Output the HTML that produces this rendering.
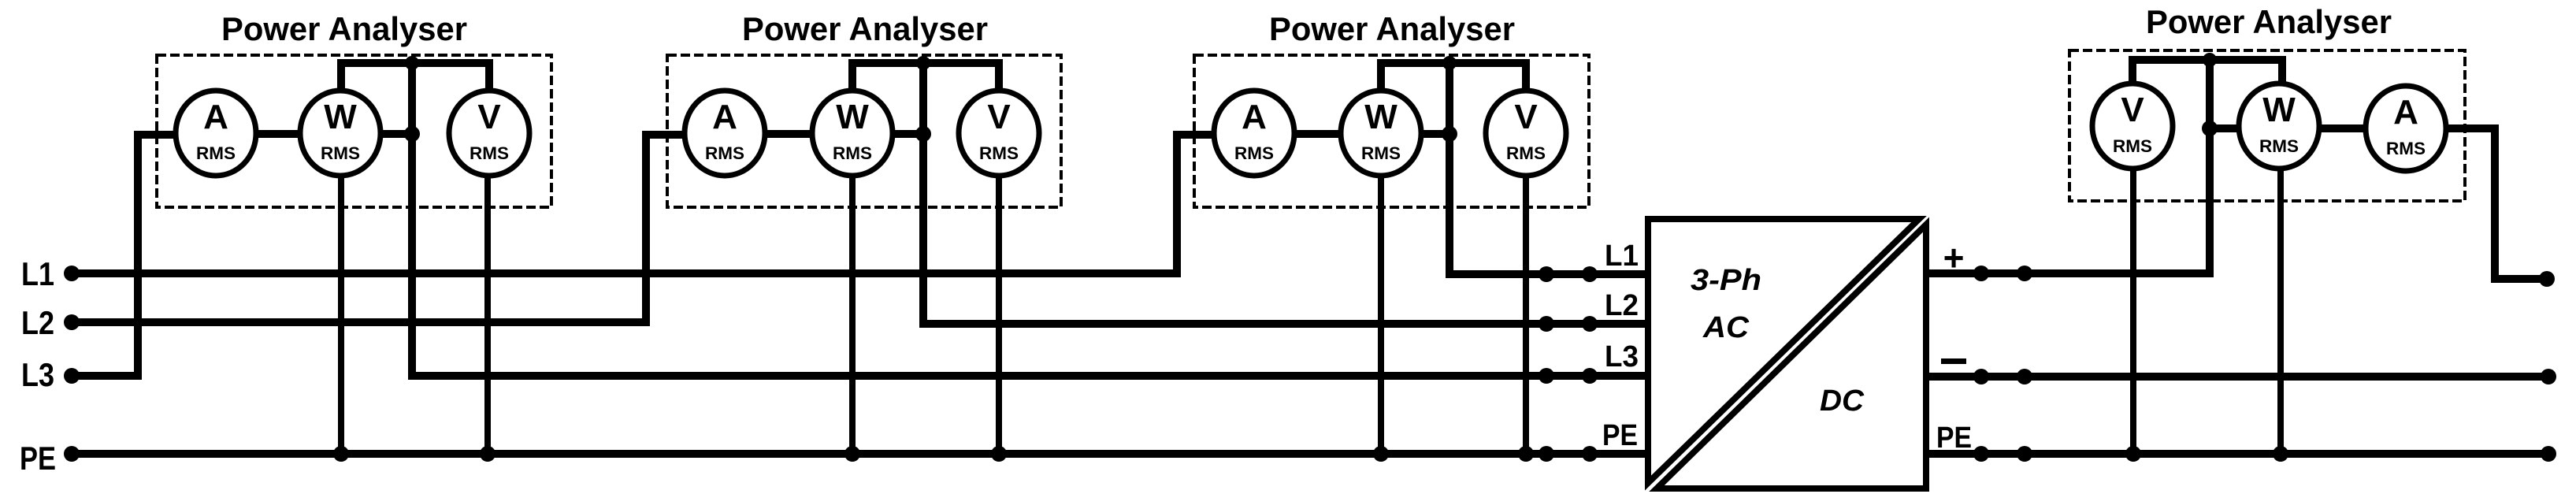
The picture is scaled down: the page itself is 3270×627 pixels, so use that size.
<!DOCTYPE html>
<html><head><meta charset="utf-8"><style>
html,body{margin:0;padding:0;background:#fff;}
svg{display:block;}
text{font-family:"Liberation Sans",sans-serif;font-weight:bold;fill:#000;}
</style></head><body>
<svg width="3270" height="627" viewBox="0 0 3270 627" xmlns="http://www.w3.org/2000/svg">
<defs>
<g id="mA"><ellipse cx="0" cy="0" rx="51" ry="54" fill="#fff" stroke="#000" stroke-width="7"/><text x="0" y="-6" font-size="44" text-anchor="middle">A</text><text x="0" y="33" font-size="22" font-weight="normal" text-anchor="middle" textLength="50" lengthAdjust="spacingAndGlyphs">RMS</text></g>
<g id="mW"><ellipse cx="0" cy="0" rx="51" ry="54" fill="#fff" stroke="#000" stroke-width="7"/><text x="0" y="-6" font-size="44" text-anchor="middle">W</text><text x="0" y="33" font-size="22" font-weight="normal" text-anchor="middle" textLength="50" lengthAdjust="spacingAndGlyphs">RMS</text></g>
<g id="mV"><ellipse cx="0" cy="0" rx="51" ry="54" fill="#fff" stroke="#000" stroke-width="7"/><text x="0" y="-6" font-size="44" text-anchor="middle">V</text><text x="0" y="33" font-size="22" font-weight="normal" text-anchor="middle" textLength="50" lengthAdjust="spacingAndGlyphs">RMS</text></g>
</defs>

<!-- dashed boxes -->
<g fill="none" stroke="#000" stroke-width="4" stroke-dasharray="12,5">
<rect x="199" y="70" width="501" height="193"/>
<rect x="847" y="70" width="500" height="193"/>
<rect x="1516" y="70" width="501" height="193"/>
<rect x="2627" y="64" width="502" height="191"/>
</g>

<!-- titles -->
<g font-size="42" text-anchor="middle">
<text x="437" y="51" textLength="312" lengthAdjust="spacingAndGlyphs">Power Analyser</text>
<text x="1098" y="51" textLength="312" lengthAdjust="spacingAndGlyphs">Power Analyser</text>
<text x="1767" y="51" textLength="312" lengthAdjust="spacingAndGlyphs">Power Analyser</text>
<text x="2880" y="42" textLength="312" lengthAdjust="spacingAndGlyphs">Power Analyser</text>
</g>

<!-- wires -->
<g fill="none" stroke="#000" stroke-width="10" stroke-linejoin="miter" stroke-linecap="square">
<!-- buses left -->
<polyline points="91,347 1494,347 1494,171 1541,171"/>
<polyline points="91,409 820,409 820,171 869,171"/>
<polyline points="91,477 175,477 175,171 223,171"/>
<line x1="91" y1="576" x2="2092" y2="576"/>
<!-- analyser 1 -->
<polyline points="433,114 433,80 621,80 621,114"/>
<polyline points="523,80 523,477 2092,477"/>
<line x1="274" y1="170" x2="432" y2="170"/>
<line x1="432" y1="170" x2="523" y2="170"/>
<!-- analyser 2 -->
<polyline points="1082,114 1082,80 1268,80 1268,114"/>
<polyline points="1172,80 1172,411 2092,411"/>
<line x1="920" y1="170" x2="1172" y2="170"/>
<!-- analyser 3 -->
<polyline points="1753,114 1753,80 1937,80 1937,114"/>
<polyline points="1840,80 1840,348 2092,348"/>
<line x1="1592" y1="170" x2="1840" y2="170"/>
<!-- analyser 4 -->
<polyline points="2707,110 2707,76 2897,76 2897,110"/>
<polyline points="2805,76 2805,347 2445,347"/>
<line x1="2805" y1="163" x2="3054" y2="163"/>
<polyline points="3054,163 3167,163 3167,354 3233,354"/>
<line x1="2445" y1="478" x2="3235" y2="478"/>
<line x1="2445" y1="576" x2="3235" y2="576"/>
</g>
<g stroke="#000" stroke-width="8">
<line x1="433" y1="200" x2="433" y2="576"/>
<line x1="619" y1="200" x2="619" y2="576"/>
<line x1="1082" y1="200" x2="1082" y2="576"/>
<line x1="1268" y1="200" x2="1268" y2="576"/>
<line x1="1753" y1="200" x2="1753" y2="576"/>
<line x1="1937" y1="200" x2="1937" y2="576"/>
<line x1="2708" y1="200" x2="2708" y2="576"/>
<line x1="2895" y1="200" x2="2895" y2="576"/>
</g>

<!-- meters -->
<use href="#mA" x="274" y="169"/><use href="#mW" x="432" y="169"/><use href="#mV" x="621" y="169"/>
<use href="#mA" x="920" y="169"/><use href="#mW" x="1082" y="169"/><use href="#mV" x="1268" y="169"/>
<use href="#mA" x="1592" y="169"/><use href="#mW" x="1753" y="169"/><use href="#mV" x="1937" y="169"/>
<use href="#mV" x="2707" y="160"/><use href="#mW" x="2893" y="160"/><use href="#mA" x="3054" y="163"/>

<!-- dots -->
<g fill="#000">
<circle cx="91" cy="347" r="10"/><circle cx="91" cy="409" r="10"/><circle cx="91" cy="477" r="10"/><circle cx="91" cy="576" r="10"/>
<circle cx="523" cy="80" r="9"/><circle cx="523" cy="170" r="10"/>
<circle cx="1172" cy="80" r="9"/><circle cx="1172" cy="170" r="10"/>
<circle cx="1840" cy="80" r="9"/><circle cx="1840" cy="170" r="10"/>
<circle cx="2805" cy="76" r="9"/><circle cx="2805" cy="163" r="10"/>
<circle cx="433" cy="576" r="10"/><circle cx="619" cy="576" r="10"/>
<circle cx="1082" cy="576" r="10"/><circle cx="1268" cy="576" r="10"/>
<circle cx="1753" cy="576" r="10"/><circle cx="1937" cy="576" r="10"/>
<circle cx="2708" cy="576" r="10"/><circle cx="2895" cy="576" r="10"/>
<circle cx="1963" cy="348" r="10"/><circle cx="2018" cy="348" r="10"/>
<circle cx="1963" cy="411" r="10"/><circle cx="2018" cy="411" r="10"/>
<circle cx="1963" cy="477" r="10"/><circle cx="2018" cy="477" r="10"/>
<circle cx="1963" cy="576" r="10"/><circle cx="2018" cy="576" r="10"/>
<circle cx="2515" cy="347" r="10"/><circle cx="2570" cy="347" r="10"/>
<circle cx="2515" cy="478" r="10"/><circle cx="2570" cy="478" r="10"/>
<circle cx="2515" cy="576" r="10"/><circle cx="2570" cy="576" r="10"/>
<circle cx="3233" cy="354" r="10"/><circle cx="3235" cy="478" r="10"/><circle cx="3235" cy="576" r="10"/>
</g>

<!-- converter -->
<g fill="#fff" stroke="#000" stroke-width="8" stroke-linejoin="miter">
<polygon points="2092,278 2436,278 2092,613"/>
<polygon points="2445,285 2445,620 2103,620"/>
</g>

<!-- labels -->
<g font-size="42">
<text x="27" y="362" textLength="42" lengthAdjust="spacingAndGlyphs">L1</text>
<text x="27" y="424" textLength="42" lengthAdjust="spacingAndGlyphs">L2</text>
<text x="27" y="490" textLength="42" lengthAdjust="spacingAndGlyphs">L3</text>
<text x="25" y="596" textLength="46" lengthAdjust="spacingAndGlyphs">PE</text>
</g>
<g font-size="38">
<text x="2037" y="337" textLength="43" lengthAdjust="spacingAndGlyphs">L1</text>
<text x="2037" y="400" textLength="43" lengthAdjust="spacingAndGlyphs">L2</text>
<text x="2037" y="465" textLength="43" lengthAdjust="spacingAndGlyphs">L3</text>
<text x="2034" y="565" textLength="45" lengthAdjust="spacingAndGlyphs">PE</text>
<text x="2458" y="568" textLength="45" lengthAdjust="spacingAndGlyphs">PE</text>
</g>
<text x="2480" y="343" font-size="46" text-anchor="middle">+</text>
<rect x="2464" y="455" width="32" height="7" fill="#000"/>
<g font-size="38" font-style="italic">
<text x="2146" y="368" textLength="90" lengthAdjust="spacingAndGlyphs">3-Ph</text>
<text x="2162" y="428" textLength="58" lengthAdjust="spacingAndGlyphs">AC</text>
<text x="2310" y="521" textLength="56" lengthAdjust="spacingAndGlyphs">DC</text>
</g>
</svg>
</body></html>
